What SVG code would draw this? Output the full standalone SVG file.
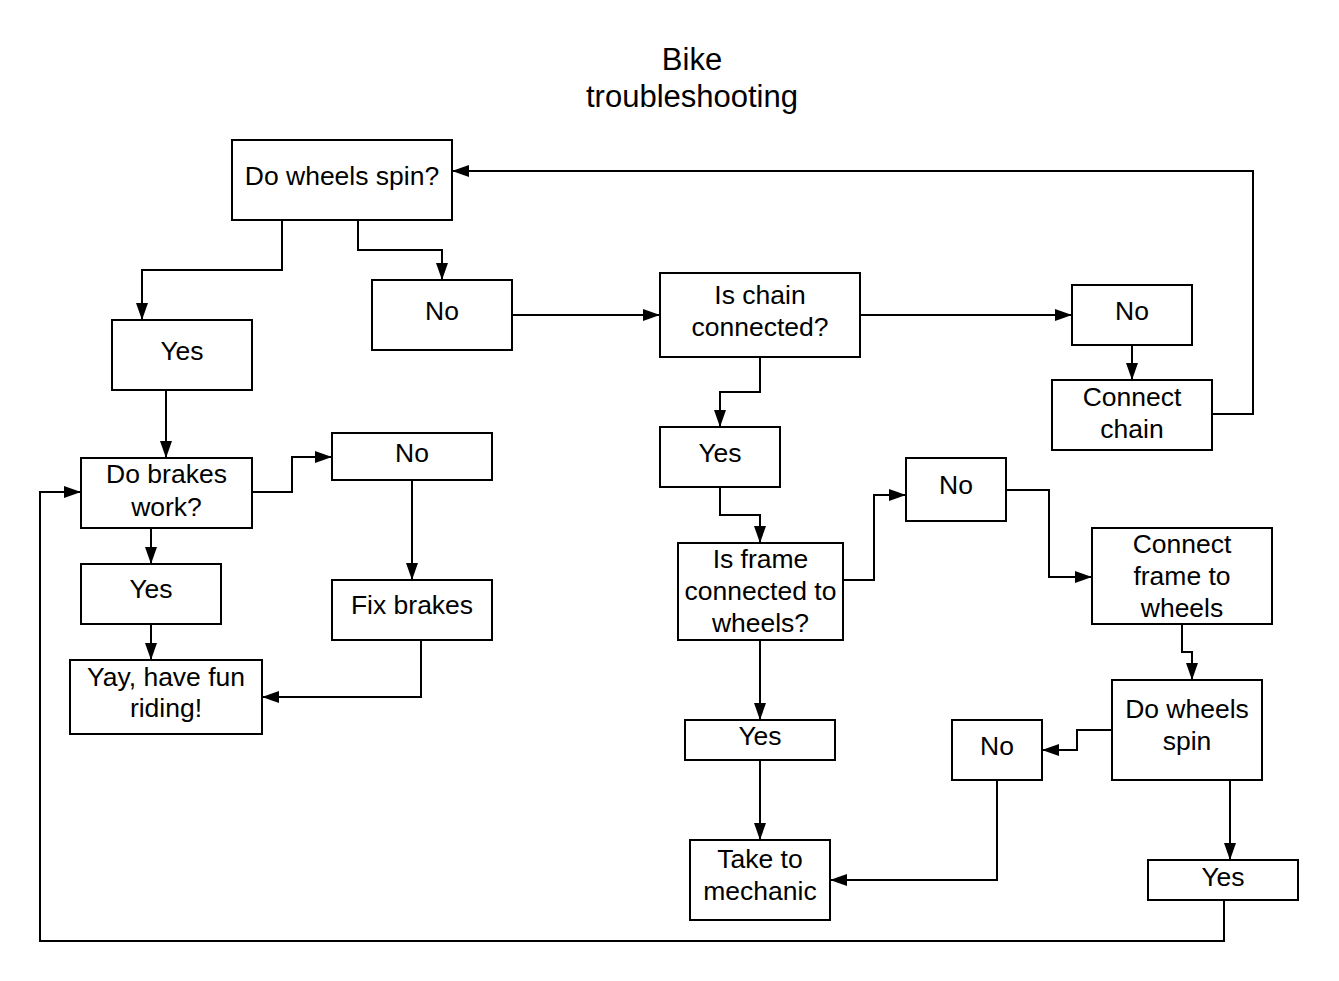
<svg xmlns="http://www.w3.org/2000/svg" width="1339" height="981" viewBox="0 0 1339 981">
<style>
rect{fill:#fff;stroke:#000;stroke-width:2}
text{font-family:"Liberation Sans",Arial,sans-serif;font-size:26.5px;fill:#000;text-anchor:middle}
.title{font-size:31px}
#connectors path{fill:none;stroke:#000;stroke-width:2;marker-end:url(#arr)}
</style>
<defs>
<marker id="arr" markerUnits="userSpaceOnUse" markerWidth="18" markerHeight="12" refX="17" refY="6" orient="auto">
<path d="M0,0 L17,6 L0,12 z" fill="#000"/>
</marker>
</defs>
<rect x="0" y="0" width="1339" height="981" style="stroke:none"/>
<g id="title">
<text class="title" x="692" y="70">Bike</text>
<text class="title" x="692" y="107">troubleshooting</text>
</g>
<g id="connectors">
<path d="M282,220 V270 H142 V320"/>
<path d="M358,220 V250 H442 V280"/>
<path d="M512,315 H660"/>
<path d="M860,315 H1072"/>
<path d="M1132,345 V380"/>
<path d="M1212,414 H1253 V171 H452"/>
<path d="M760,357 V392 H720 V427"/>
<path d="M720,487 V515 H760 V543"/>
<path d="M166,390 V458"/>
<path d="M252,492 H292 V457 H332"/>
<path d="M412,480 V580"/>
<path d="M151,528 V564"/>
<path d="M151,624 V660"/>
<path d="M421,640 V697 H262"/>
<path d="M843,580 H874 V495 H906"/>
<path d="M1006,490 H1049 V577 H1092"/>
<path d="M1182,624 V652 H1192 V680"/>
<path d="M760,640 V720"/>
<path d="M760,760 V840"/>
<path d="M1112,730 H1077 V750 H1042"/>
<path d="M997,780 V880 H830"/>
<path d="M1230,780 V860"/>
<path d="M1224,900 V941 H40 V492 H81"/>
</g>
<g id="n1"><rect x="232" y="140" width="220" height="80"/><text x="342" y="185">Do wheels spin?</text></g>
<g id="n2"><rect x="372" y="280" width="140" height="70"/><text x="442" y="320">No</text></g>
<g id="n3"><rect x="112" y="320" width="140" height="70"/><text x="182" y="360">Yes</text></g>
<g id="n4"><rect x="660" y="273" width="200" height="84"/><text x="760" y="304">Is chain</text><text x="760" y="336">connected?</text></g>
<g id="n5"><rect x="1072" y="285" width="120" height="60"/><text x="1132" y="320">No</text></g>
<g id="n6"><rect x="1052" y="380" width="160" height="70"/><text x="1132" y="406">Connect</text><text x="1132" y="438">chain</text></g>
<g id="n7"><rect x="660" y="427" width="120" height="60"/><text x="720" y="462">Yes</text></g>
<g id="n8"><rect x="81" y="458" width="171" height="70"/><text x="166.5" y="483">Do brakes</text><text x="166.5" y="516">work?</text></g>
<g id="n9"><rect x="332" y="433" width="160" height="47"/><text x="412" y="462">No</text></g>
<g id="n10"><rect x="81" y="564" width="140" height="60"/><text x="151" y="598">Yes</text></g>
<g id="n11"><rect x="332" y="580" width="160" height="60"/><text x="412" y="614">Fix brakes</text></g>
<g id="n12"><rect x="70" y="660" width="192" height="74"/><text x="166" y="686">Yay, have fun</text><text x="166" y="717">riding!</text></g>
<g id="n13"><rect x="678" y="543" width="165" height="97"/><text x="760.5" y="568">Is frame</text><text x="760.5" y="600">connected to</text><text x="760.5" y="632">wheels?</text></g>
<g id="n14"><rect x="906" y="458" width="100" height="63"/><text x="956" y="494">No</text></g>
<g id="n15"><rect x="1092" y="528" width="180" height="96"/><text x="1182" y="553">Connect</text><text x="1182" y="585">frame to</text><text x="1182" y="617">wheels</text></g>
<g id="n16"><rect x="1112" y="680" width="150" height="100"/><text x="1187" y="718">Do wheels</text><text x="1187" y="750">spin</text></g>
<g id="n17"><rect x="952" y="720" width="90" height="60"/><text x="997" y="755">No</text></g>
<g id="n18"><rect x="685" y="720" width="150" height="40"/><text x="760" y="745">Yes</text></g>
<g id="n19"><rect x="690" y="840" width="140" height="80"/><text x="760" y="868">Take to</text><text x="760" y="900">mechanic</text></g>
<g id="n20"><rect x="1148" y="860" width="150" height="40"/><text x="1223" y="886">Yes</text></g>
</svg>
